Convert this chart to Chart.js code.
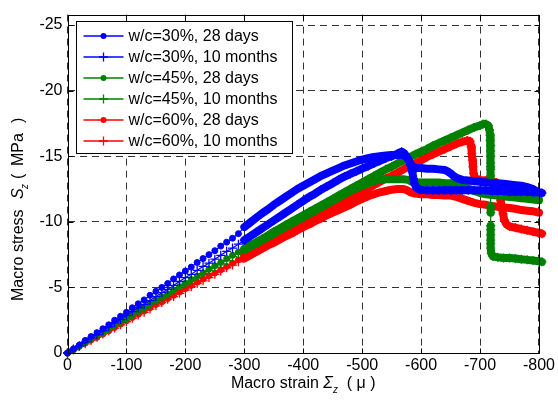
<!DOCTYPE html>
<html><head><meta charset="utf-8">
<script src="https://cdn.jsdelivr.net/npm/chart.js@4/dist/chart.umd.min.js"></script>
<style>html,body{margin:0;padding:0;background:#fff;}#wrap{width:558px;height:400px;}</style>
</head><body><div id="wrap"><canvas id="c" width="558" height="400"></canvas></div>
<script>
// ---------- data ----------
const xTicks = [0,-100,-200,-300,-400,-500,-600,-700,-800];
const yTicks = [0,-5,-10,-15,-20,-25];
const seriesLabels = ['w/c=30%, 28 days','w/c=30%, 10 months','w/c=45%, 28 days','w/c=45%, 10 months','w/c=60%, 28 days','w/c=60%, 10 months'];

// sparse part of every test (strain 0 .. -290)
const sparseStrain = [0,-10,-20,-30,-40,-50,-60,-70,-80,-90,-100,-110,-120,-130,-140,-150,-160,-170,-180,-190,-200,-210,-220,-230,-240,-250,-260,-270,-280,-290];
const blue28Sparse = [0,-0.3,-0.6,-0.95,-1.25,-1.55,-1.85,-2.15,-2.5,-2.8,-3.1,-3.45,-3.75,-4.05,-4.4,-4.7,-5.0,-5.3,-5.65,-5.95,-6.25,-6.55,-6.9,-7.2,-7.5,-7.8,-8.15,-8.45,-8.75,-9.1];
const blue10Sparse = [0,-0.3,-0.55,-0.85,-1.15,-1.4,-1.7,-2.0,-2.3,-2.55,-2.85,-3.15,-3.45,-3.7,-4.0,-4.3,-4.6,-4.85,-5.15,-5.45,-5.75,-6.0,-6.3,-6.6,-6.85,-7.15,-7.45,-7.75,-8.0,-8.3];
const green28Sparse = [0,-0.25,-0.55,-0.8,-1.05,-1.35,-1.6,-1.85,-2.15,-2.4,-2.65,-2.95,-3.2,-3.45,-3.75,-4.0,-4.25,-4.5,-4.8,-5.05,-5.3,-5.6,-5.85,-6.1,-6.4,-6.65,-6.9,-7.2,-7.45,-7.7];
const green10Sparse = [0,-0.25,-0.5,-0.8,-1.05,-1.3,-1.55,-1.85,-2.1,-2.35,-2.6,-2.9,-3.15,-3.4,-3.65,-3.95,-4.2,-4.45,-4.7,-5.0,-5.25,-5.5,-5.75,-6.05,-6.3,-6.55,-6.8,-7.05,-7.35,-7.6];
const red28Sparse = [0,-0.25,-0.5,-0.75,-1.0,-1.2,-1.45,-1.7,-1.95,-2.2,-2.45,-2.7,-2.95,-3.2,-3.45,-3.7,-3.9,-4.15,-4.4,-4.65,-4.9,-5.15,-5.4,-5.65,-5.9,-6.1,-6.35,-6.6,-6.85,-7.1];
const red10Sparse = [0,-0.25,-0.5,-0.7,-0.95,-1.2,-1.45,-1.7,-1.9,-2.15,-2.4,-2.65,-2.9,-3.1,-3.35,-3.6,-3.85,-4.1,-4.3,-4.55,-4.8,-5.05,-5.3,-5.5,-5.75,-6.0,-6.25,-6.5,-6.7,-6.95];

// densely sampled part (strain -300 and beyond)
const blue28Strain = [-300,-310,-320,-330,-340,-350,-360,-370,-380,-390,-400,-410,-420,-430,-440,-450,-460,-470,-480,-490,-500,-510,-520,-530,-540,-550,-560,-570,-576,-580,-584,-590,-600,-610,-620,-630,-640,-645,-650,-655,-660,-670,-680,-690,-700,-710,-720,-730,-740,-750,-760,-770,-780,-790,-797];
const blue28Stress = [-9.6,-9.95,-10.3,-10.65,-10.95,-11.3,-11.6,-11.9,-12.2,-12.5,-12.75,-13.0,-13.25,-13.5,-13.7,-13.9,-14.1,-14.3,-14.45,-14.6,-14.75,-14.85,-14.95,-15.0,-15.05,-15.1,-15.1,-15.1,-14.9,-14.6,-14.3,-14.1,-14.1,-14.05,-14.05,-14.0,-13.95,-13.85,-13.7,-13.5,-13.35,-13.2,-13.15,-13.1,-13.05,-13.0,-12.95,-12.95,-12.9,-12.85,-12.8,-12.75,-12.65,-12.5,-12.3];

const blue10Strain = [-300,-310,-320,-330,-340,-350,-360,-370,-380,-390,-400,-410,-420,-430,-440,-450,-460,-470,-480,-490,-500,-510,-520,-530,-540,-550,-560,-567,-572,-578,-582,-585,-587,-589,-592,-598,-610,-620,-630,-640,-650,-660,-670,-680,-690,-700,-710,-720,-730,-740,-750,-760,-770,-780,-790,-800,-805];
const blue10Stress = [-8.6,-8.9,-9.2,-9.5,-9.8,-10.1,-10.4,-10.7,-11.0,-11.3,-11.6,-11.9,-12.15,-12.45,-12.7,-12.95,-13.2,-13.45,-13.65,-13.85,-14.05,-14.25,-14.45,-14.65,-14.85,-15.0,-15.2,-15.35,-15.2,-14.8,-14.3,-13.8,-13.3,-12.9,-12.6,-12.45,-12.4,-12.4,-12.4,-12.4,-12.4,-12.4,-12.4,-12.4,-12.4,-12.4,-12.4,-12.35,-12.35,-12.35,-12.3,-12.3,-12.3,-12.3,-12.25,-12.25,-12.2];

const green28Strain = [-300,-310,-320,-330,-340,-350,-360,-370,-380,-390,-400,-410,-420,-430,-440,-450,-460,-470,-480,-490,-500,-510,-520,-530,-540,-550,-560,-570,-578,-584,-590,-600,-610,-620,-630,-640,-650,-660,-670,-680,-690,-700,-710,-720,-730,-740,-750,-760,-770,-780,-790,-800];
const green28Stress = [-7.85,-8.1,-8.35,-8.6,-8.85,-9.1,-9.35,-9.6,-9.85,-10.1,-10.35,-10.6,-10.85,-11.1,-11.35,-11.6,-11.85,-12.1,-12.35,-12.55,-12.75,-12.95,-13.1,-13.2,-13.25,-13.25,-13.25,-13.25,-13.2,-13.05,-13.0,-13.0,-13.0,-13.0,-13.0,-12.95,-12.95,-12.9,-12.75,-12.55,-12.35,-12.2,-12.1,-12.05,-12.0,-11.95,-11.9,-11.85,-11.8,-11.75,-11.7,-11.65];

const green10Strain = [-300,-310,-320,-330,-340,-350,-360,-370,-380,-390,-400,-410,-420,-430,-440,-450,-460,-470,-480,-490,-500,-510,-520,-530,-540,-550,-560,-570,-580,-590,-600,-610,-620,-630,-640,-650,-660,-670,-680,-690,-700,-705,-710,-714,-716,-717,-717,-718,-718,-718,-718,-718,-718,-718,-718,-718,-718,-718,-718,-718,-718,-718,-718,-718,-719,-722,-730,-740,-750,-760,-770,-780,-790,-800,-805];
const green10Stress = [-7.95,-8.2,-8.45,-8.7,-8.95,-9.25,-9.5,-9.75,-10.0,-10.25,-10.5,-10.75,-11.0,-11.25,-11.5,-11.75,-12.0,-12.25,-12.5,-12.75,-13.0,-13.25,-13.5,-13.75,-14.0,-14.2,-14.45,-14.7,-14.9,-15.15,-15.35,-15.55,-15.8,-16.0,-16.2,-16.4,-16.6,-16.8,-17.0,-17.2,-17.35,-17.45,-17.45,-17.35,-17.0,-16.6,-16.2,-15.8,-15.4,-15.0,-14.5,-14.2,-14.0,-13.5,-13.1,-12.2,-11.2,-10.7,-9.7,-9.4,-9.0,-8.6,-8.35,-8.0,-7.6,-7.35,-7.3,-7.25,-7.25,-7.2,-7.15,-7.1,-7.05,-7.0,-6.95];

const red28Strain = [-300,-310,-320,-330,-340,-350,-360,-370,-380,-390,-400,-410,-420,-430,-440,-450,-460,-470,-480,-490,-500,-510,-520,-530,-540,-550,-560,-570,-576,-582,-590,-600,-610,-620,-630,-640,-650,-660,-670,-680,-690,-700,-710,-720,-730,-740,-750,-760,-770,-780,-790,-800];
const red28Stress = [-7.2,-7.45,-7.7,-7.95,-8.2,-8.4,-8.65,-8.9,-9.1,-9.35,-9.6,-9.8,-10.05,-10.25,-10.5,-10.7,-10.9,-11.1,-11.3,-11.55,-11.75,-11.95,-12.1,-12.25,-12.35,-12.45,-12.5,-12.5,-12.4,-12.25,-12.15,-12.1,-12.1,-12.05,-12.05,-12.0,-12.0,-11.9,-11.75,-11.6,-11.45,-11.35,-11.3,-11.2,-11.15,-11.1,-11.05,-11.0,-10.9,-10.85,-10.8,-10.7];

const red10Strain = [-300,-310,-320,-330,-340,-350,-360,-370,-380,-390,-400,-410,-420,-430,-440,-450,-460,-470,-480,-490,-500,-510,-520,-530,-540,-550,-560,-570,-580,-590,-600,-610,-620,-630,-640,-650,-660,-670,-678,-683,-685,-686,-687,-688,-689,-691,-695,-700,-710,-720,-728,-731,-733,-735,-737,-739,-741,-745,-750,-760,-770,-780,-790,-800,-805];
const red10Stress = [-7.4,-7.65,-7.9,-8.15,-8.4,-8.65,-8.9,-9.15,-9.4,-9.65,-9.9,-10.15,-10.4,-10.6,-10.85,-11.1,-11.35,-11.6,-11.85,-12.05,-12.3,-12.55,-12.8,-13.05,-13.3,-13.5,-13.75,-14.0,-14.25,-14.45,-14.7,-14.95,-15.15,-15.35,-15.55,-15.75,-15.95,-16.1,-16.2,-16.15,-15.7,-15.2,-14.7,-14.2,-13.7,-13.4,-13.25,-13.2,-13.15,-13.1,-13.0,-12.6,-12.1,-11.6,-11.1,-10.6,-10.15,-9.8,-9.65,-9.55,-9.45,-9.35,-9.25,-9.15,-9.1];

const seriesColors = ['#0000ff','#0000ff','#008000','#008000','#ff0000','#ff0000'];
const seriesMarkers = ['circle','cross','circle','cross','circle','cross'];

// ---------- build ----------
function pts(sx, sy, dx, dy) {
  const xs = sx.concat(dx), ys = sy.concat(dy);
  return xs.map((x, i) => ({x: x, y: ys[i]}));
}
const seriesData = [
  pts(sparseStrain, blue28Sparse, blue28Strain, blue28Stress),
  pts(sparseStrain, blue10Sparse, blue10Strain, blue10Stress),
  pts(sparseStrain, green28Sparse, green28Strain, green28Stress),
  pts(sparseStrain, green10Sparse, green10Strain, green10Stress),
  pts(sparseStrain, red28Sparse, red28Strain, red28Stress),
  pts(sparseStrain, red10Sparse, red10Strain, red10Stress)
];

const FONT = "'Liberation Sans', Arial, Helvetica, sans-serif";
const segWidth = ctx => {
  const dx = ctx.p1.x - ctx.p0.x, dy = ctx.p1.y - ctx.p0.y;
  const len = Math.hypot(dx, dy);
  return (ctx.p0.parsed.x <= -300 && len <= 10) ? 8 : 1.2;
};

const datasets = seriesData.map((d, i) => ({
  label: seriesLabels[i],
  data: d,
  borderColor: seriesColors[i],
  backgroundColor: seriesColors[i],
  borderWidth: 1.2,
  borderCapStyle: 'round',
  borderJoinStyle: 'round',
  pointStyle: seriesMarkers[i],
  pointRadius: seriesMarkers[i] === 'circle' ? 3 : 4.5,
  pointBorderWidth: seriesMarkers[i] === 'circle' ? 1 : 1.3,
  pointBackgroundColor: seriesColors[i],
  pointBorderColor: seriesColors[i],
  tension: 0,
  clip: false,
  segment: { borderWidth: segWidth }
}));

function richWidth(ctx, parts) {
  let w = 0;
  for (const p of parts) { ctx.font = p.font; w += ctx.measureText(p.t).width; }
  return w;
}
function drawRich(ctx, parts, x, y) {
  let cx = x;
  for (const p of parts) {
    ctx.font = p.font;
    ctx.fillText(p.t, cx, y + (p.dy || 0));
    cx += ctx.measureText(p.t).width;
  }
}

const decor = {
  id: 'decor',
  afterDatasetsDraw(chart) {
    const ctx = chart.ctx, a = chart.chartArea;
    const xs = chart.scales.x, ys = chart.scales.y;
    ctx.save();
    ctx.strokeStyle = '#000';
    ctx.lineWidth = 1;
    ctx.setLineDash([]);
    const L = Math.round(a.left) + 0.5, R = Math.round(a.right) + 0.5;
    const T = Math.round(a.top) + 0.5, B = Math.round(a.bottom) + 0.5;
    ctx.strokeRect(L, T, R - L, B - T);
    // inside tick marks
    ctx.beginPath();
    xTicks.forEach(v => {
      const px = Math.round(xs.getPixelForValue(v)) + 0.5;
      ctx.moveTo(px, B); ctx.lineTo(px, B - 5);
      ctx.moveTo(px, T); ctx.lineTo(px, T + 5);
    });
    yTicks.forEach(v => {
      const py = Math.round(ys.getPixelForValue(v)) + 0.5;
      ctx.moveTo(L, py); ctx.lineTo(L + 5, py);
      ctx.moveTo(R, py); ctx.lineTo(R - 5, py);
    });
    ctx.stroke();

    // legend
    const bx = L + 8, by = T + 6, bw = 216, bh = 132;
    ctx.fillStyle = '#fff';
    ctx.fillRect(bx, by, bw, bh);
    ctx.strokeStyle = '#000';
    ctx.strokeRect(bx, by, bw, bh);
    chart.data.datasets.forEach((ds, i) => {
      const cy = by - 0.5 + 15 + 21 * i;
      const col = seriesColors[i];
      ctx.strokeStyle = col;
      ctx.fillStyle = col;
      ctx.lineWidth = 1.3;
      ctx.beginPath(); ctx.moveTo(bx + 7, cy); ctx.lineTo(bx + 47, cy); ctx.stroke();
      const mx = bx + 27;
      if (seriesMarkers[i] === 'circle') {
        ctx.beginPath(); ctx.arc(mx, cy, 3, 0, Math.PI * 2); ctx.fill();
      } else {
        ctx.beginPath();
        ctx.moveTo(mx - 4.5, cy); ctx.lineTo(mx + 4.5, cy);
        ctx.moveTo(mx, cy - 4.5); ctx.lineTo(mx, cy + 4.5);
        ctx.stroke();
      }
      ctx.fillStyle = '#000';
      ctx.font = '16px ' + FONT;
      ctx.textBaseline = 'middle';
      ctx.textAlign = 'left';
      ctx.fillText(ds.label, bx + 52, cy + 1);
    });

    // axis titles
    ctx.fillStyle = '#000';
    ctx.textBaseline = 'alphabetic';
    ctx.textAlign = 'left';
    const xParts = [
      {t: 'Macro strain ', font: '16px ' + FONT},
      {t: '\u03A3', font: 'italic 16px ' + FONT},
      {t: 'z', font: 'italic 10px ' + FONT, dy: 5},
      {t: '  ( \u03BC )', font: '16px ' + FONT}
    ];
    const xw = richWidth(ctx, xParts);
    drawRich(ctx, xParts, (a.left + a.right) / 2 - xw / 2, 388);

    // y title pieces placed along the rotated axis (distance measured upward from the bottom)
    ctx.translate(23, 0);
    ctx.rotate(-Math.PI / 2);
    ctx.font = '16px ' + FONT;
    ctx.fillText('Macro stress', -301, 0);
    ctx.font = 'italic 16px ' + FONT;
    ctx.fillText('S', -199, 0);
    ctx.font = 'italic 10px ' + FONT;
    ctx.fillText('z', -189, 5);
    ctx.font = '16px ' + FONT;
    ctx.fillText('(', -179, 0);
    ctx.fillText('MPa', -166, 0);
    ctx.fillText(')', -123, 0);
    ctx.restore();
  }
};

new Chart(document.getElementById('c'), {
  type: 'line',
  data: { datasets: datasets },
  options: {
    responsive: false,
    devicePixelRatio: 1,
    animation: false,
    events: [],
    layout: { padding: { left: 0, right: 16, top: 9, bottom: 0 } },
    plugins: { legend: { display: false }, tooltip: { enabled: false } },
    scales: {
      x: {
        type: 'linear', reverse: true, min: -800, max: 0,
        afterBuildTicks: s => { s.ticks = xTicks.map(v => ({value: v})); },
        afterFit: s => { s.height = 47; },
        border: { display: false, dash: [7, 5] },
        grid: { color: '#333', lineWidth: 1, drawTicks: false },
        ticks: { color: '#000', font: { size: 16, family: FONT }, padding: 3, maxRotation: 0, autoSkip: false,
                 callback: v => String(v) }
      },
      y: {
        type: 'linear', reverse: true, min: -25.8, max: 0,
        afterBuildTicks: s => { s.ticks = yTicks.map(v => ({value: v})); },
        afterFit: s => { s.width = 67.5; },
        border: { display: false, dash: [7, 5] },
        grid: { color: '#333', lineWidth: 1, drawTicks: false },
        ticks: { color: '#000', font: { size: 16, family: FONT }, padding: 5, autoSkip: false,
                 callback: v => String(v) }
      }
    }
  },
  plugins: [decor]
});
</script>
</body></html>
